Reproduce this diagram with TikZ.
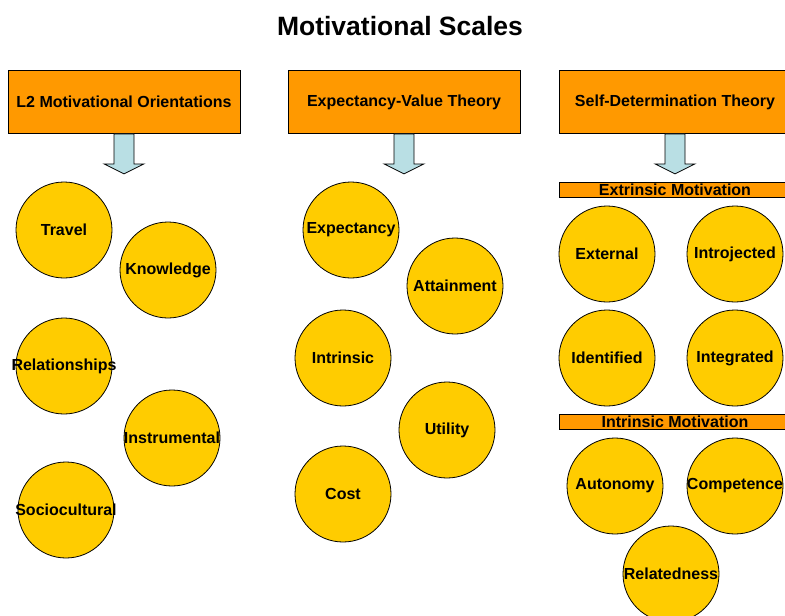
\documentclass[tikz,border=0pt]{standalone}
\usepackage{fontspec}
\setmainfont{Liberation Sans}
\usetikzlibrary{calc,math}

\definecolor{headorange}{HTML}{FF9900}
\definecolor{ballyellow}{HTML}{FFCC00}
\definecolor{arrowblue}{HTML}{B9DFE4}

\begin{document}
\begin{tikzpicture}[x=1pt,y=-1pt,line width=0.8pt,
  header/.style={draw,fill=headorange,inner sep=0pt,minimum width=232pt,minimum height=63pt,
    font=\bfseries\fontsize{16}{19}\selectfont},
  subbar/.style={draw,fill=headorange,inner sep=0pt,minimum width=232pt,minimum height=15pt,
    font=\bfseries\fontsize{16}{19}\selectfont},
  ball/.style={circle,draw,fill=ballyellow,inner sep=0pt,minimum size=96pt,
    font=\bfseries\fontsize{16}{19}\selectfont}]
  \tikzmath{
    real \shaft, \head;
    \shaft = 10;
    \head = 20;
  }

  \useasboundingbox (0,0) rectangle (785,616);
  \clip (0,0) rectangle (785,616);

  \node[font=\bfseries\fontsize{26.5}{30}\selectfont] (title) at (400,26) {Motivational Scales};

  \node[header] (lmo) at (124,102) {L2 Motivational Orientations};
  \node[header] (evt) at (404,102) {Expectancy-Value Theory};
  \node[header] (sdt) at (675,102) {Self-Determination Theory};

  \foreach \h in {lmo,evt,sdt} {
    \draw[fill=arrowblue] ($(\h.south)+(-\shaft,0)$) -- ++(0,30) -- ++(\shaft-\head,0)
      -- ($(\h.south)+(0,40)$) -- ($(\h.south)+(\head,30)$) -- ++(\shaft-\head,0)
      -- ($(\h.south)+(\shaft,0)$) -- cycle;
  }

  \node[subbar] (extr) at (675,190) {Extrinsic Motivation};
  \node[subbar] (intr) at (675,422) {Intrinsic Motivation};

  \foreach \name/\x/\y/\txt in {
      trav/64/230/Travel, know/168/270/Knowledge, rela/64/366/Relationships,
      inst/172/438/Instrumental, soci/66/510/Sociocultural,
      expe/351/230/Expectancy, atta/455/286/Attainment, intri/343/358/Intrinsic,
      util/447/430/Utility, cost/343/494/Cost,
      exte/607/254/External, intro/735/254/Introjected, iden/607/358/Identified,
      inte/735/358/Integrated, auto/615/486/Autonomy, comp/735/486/Competence,
      reld/671/574/Relatedness} {
    \node[ball] (\name) at (\x,\y) {\makebox[0pt]{\txt}};
  }
\end{tikzpicture}
\end{document}
